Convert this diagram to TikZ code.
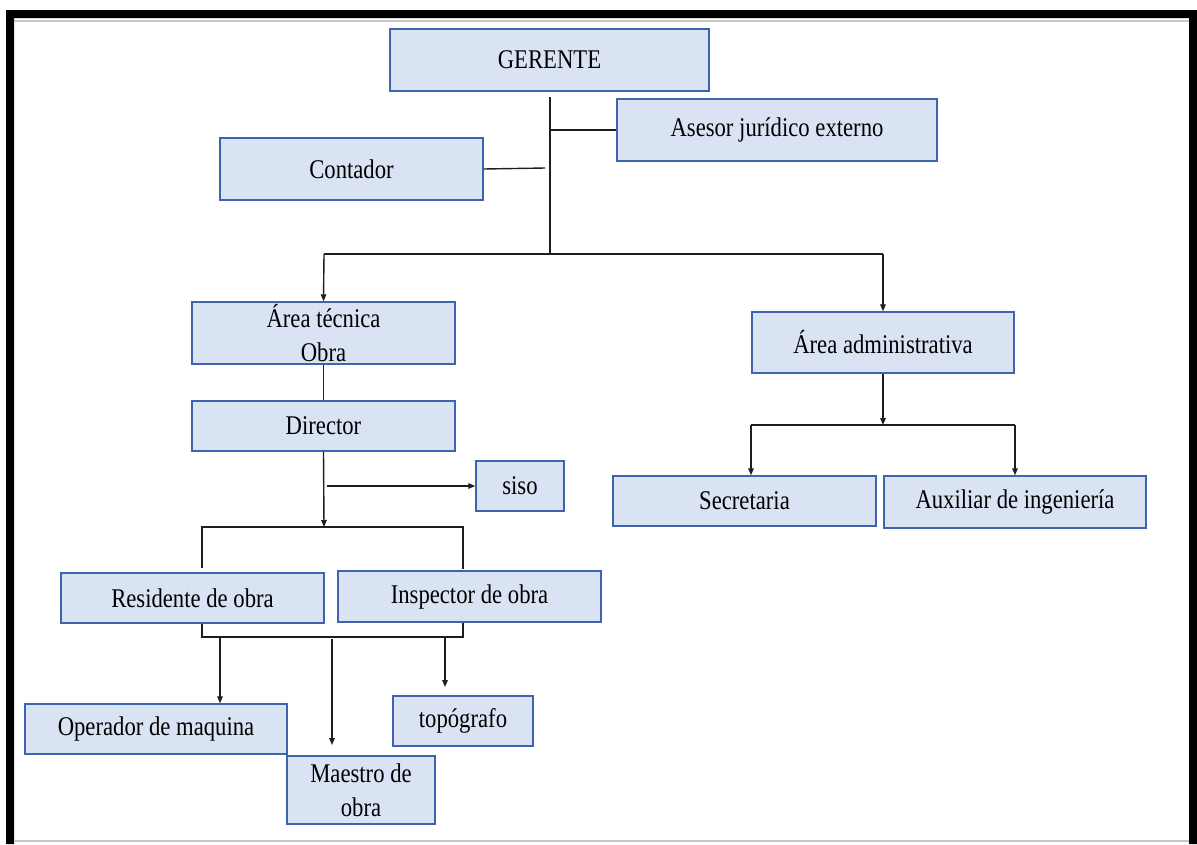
\documentclass[tikz,border=0pt]{standalone}
\usepackage{fontspec}
\setmainfont[FakeStretch=0.84]{Liberation Serif}
\usetikzlibrary{arrows.meta}
\definecolor{boxfill}{RGB}{218,227,243}
\definecolor{boxline}{RGB}{62,100,176}
\definecolor{wire}{RGB}{30,30,30}
\definecolor{rule}{RGB}{200,200,200}
\begin{document}
\begin{tikzpicture}[x=1pt,y=-1pt,
  box/.style={draw=boxline,fill=boxfill,line width=1.4pt,inner sep=0pt,
    align=center,font=\fontsize{27}{34}\selectfont},
  wire/.style={draw=wire,line width=1.4pt},
  arr/.style={wire,-{Triangle[length=7pt,width=5.5pt]}}]
\useasboundingbox (0,0) rectangle (1197,844);
% frame
\fill[black] (6,844) -- (6,10) -- (1197,10) -- (1197,844) -- (1189,844) -- (1189,18) -- (14,18) -- (14,844) -- cycle;
\draw[rule,line width=2pt] (14,21) -- (1189,21);
\draw[rule,line width=2pt] (14,841) -- (1189,841);

% boxes
\node[box,minimum width=319pt,minimum height=62pt] (ger) at (549.5,60) {GERENTE};
\node[box,minimum width=320pt,minimum height=62pt] (ase) at (777,130) {Asesor jurídico externo};
\node[box,minimum width=263pt,minimum height=62pt] (con) at (351.5,169) {Contador};
\node[box,minimum width=263pt,minimum height=62pt] (tec) at (323.5,333) {Área técnica\\Obra};
\node[box,minimum width=262pt,minimum height=61pt] (adm) at (883,342.5) {Área administrativa};
\node[box,minimum width=263pt,minimum height=50pt] (dir) at (323.5,426) {Director};
\node[box,minimum width=88pt,minimum height=50pt] (siso) at (520,486) {siso};
\node[box,minimum width=263pt,minimum height=50pt] (sec) at (744.5,501) {Secretaria};
\node[box,minimum width=262pt,minimum height=52pt] (aux) at (1015,502) {Auxiliar de ingeniería};
\node[box,minimum width=263pt,minimum height=50pt] (res) at (192.5,598) {Residente de obra};
\node[box,minimum width=263pt,minimum height=51pt] (ins) at (469.5,596.5) {Inspector de obra};
\node[box,minimum width=262pt,minimum height=50pt] (ope) at (156,729) {Operador de maquina};
\node[box,minimum width=148pt,minimum height=68pt] (mae) at (361,790) {Maestro de\\obra};
\node[box,minimum width=140pt,minimum height=50pt] (top) at (463,721) {topógrafo};

% junction points
\coordinate (t0) at (550,97);
\coordinate (t1) at (550,254);
\coordinate (bl) at (324,254);
\coordinate (br) at (883,254);
\coordinate (ce) at (545,168);
\coordinate (d1) at (324,527);
\coordinate (s0) at (327,486);
\coordinate (q1) at (202,527);
\coordinate (q2) at (463,527);
\coordinate (r1) at (202,637);
\coordinate (r2) at (463,637);
\coordinate (o0) at (220,637);
\coordinate (m0) at (332,639);
\coordinate (m1) at (332,745);
\coordinate (p0) at (445,637);
\coordinate (p1) at (445,687);
\coordinate (a1) at (883,425);
\coordinate (al) at (751,425);
\coordinate (ar) at (1015,425);

% top level
\draw[wire] (t0) -- (t1);
\draw[wire] (t0 |- ase.west) -- (ase.west);
\draw[wire] (con.east) -- (ce);
\draw[wire] (bl) -- (br);
\draw[arr] (bl) -- (tec.north);
\draw[arr] (br) -- (adm.north);

% technical area
\draw[wire] (tec.south) -- (dir.north);
\draw[arr] (dir.south) -- (d1);
\draw[arr] (s0) -- (siso.west);
\draw[wire] (q1 |- res.north) ++(0,-4) -- (q1) -- (q2) -- ++(0,42);
\draw[wire] (q1 |- res.south) -- (r1) -- (r2) -- (q2 |- ins.south);
\draw[arr] (o0) -- (o0 |- ope.north);
\draw[arr] (m0) -- (m1);
\draw[arr] (p0) -- (p1);

% administrative area
\draw[arr] (adm.south) -- (a1);
\draw[wire] (al) -- (ar);
\draw[arr] (al) -- (al |- sec.north);
\draw[arr] (ar) -- (aux.north);
\end{tikzpicture}
\end{document}
